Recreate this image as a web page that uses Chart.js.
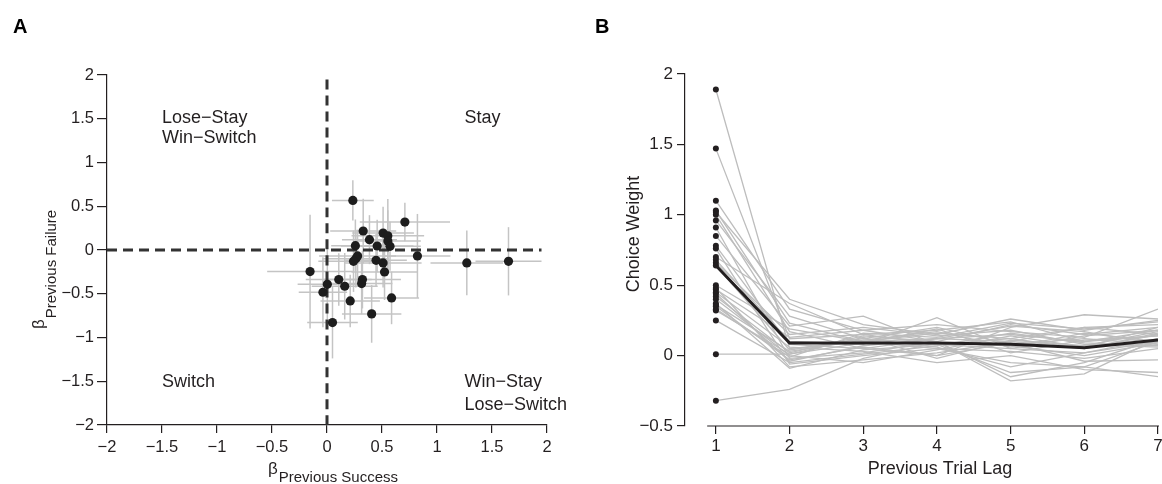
<!DOCTYPE html>
<html>
<head>
<meta charset="utf-8">
<script src="https://cdn.jsdelivr.net/npm/chart.js@4.4.1/dist/chart.umd.min.js"></script>
<style>
  html, body { margin: 0; padding: 0; background: #fff; }
  #wrap { position: relative; width: 1162px; height: 484px; overflow: hidden; }
  canvas { position: absolute; top: 0; }
  #chartA { left: 0; }
  #chartB { left: 580px; }
</style>
</head>
<body>
<div id="wrap">
  <canvas id="chartA" width="580" height="484"></canvas>
  <canvas id="chartB" width="582" height="484"></canvas>
</div>
<script>
// ---- panel A: regression weights per subject ----
var successBeta = [0.235, 0.708, 0.329, 0.510, 0.553, 0.386, 0.553, 0.258, 0.456, 0.573,
                   0.822, 0.278, 0.262, 0.446, 0.241, 0.510, 1.271, 1.650, -0.154, 0.523,
                   0.107, 0.322, 0.315, 0.003, 0.161, -0.037, 0.587, 0.211, 0.406, 0.050];
var failureBeta = [0.567, 0.319, 0.217, 0.194, 0.163, 0.118, 0.103, 0.049, 0.046, 0.042,
                   -0.068, -0.068, -0.099, -0.118, -0.129, -0.148, -0.148, -0.129, -0.247, -0.251,
                   -0.338, -0.338, -0.384, -0.392, -0.414, -0.483, -0.548, -0.582, -0.730, -0.829];
var successErr  = [0.19, 0.41, 0.30, 0.28, 0.33, 0.25, 0.30, 0.22, 0.33, 0.28,
                   0.30, 0.35, 0.30, 0.28, 0.32, 0.35, 0.33, 0.30, 0.39, 0.30,
                   0.30, 0.35, 0.28, 0.27, 0.30, 0.22, 0.25, 0.27, 0.27, 0.23];
var failureErr  = [0.23, 0.22, 0.37, 0.30, 0.42, 0.28, 0.35, 0.30, 0.30, 0.28,
                   0.48, 0.30, 0.33, 0.30, 0.35, 0.28, 0.37, 0.39, 0.65, 0.32,
                   0.30, 0.33, 0.35, 0.40, 0.38, 0.40, 0.30, 0.30, 0.33, 0.41];
var quadrantLabels = [
  { text: 'Lose\u2212Stay',   x: -1.5, y: 1.446 },
  { text: 'Win\u2212Switch',  x: -1.5, y: 1.226 },
  { text: 'Stay',             x: 1.25, y: 1.446 },
  { text: 'Switch',           x: -1.5, y: -1.562 },
  { text: 'Win\u2212Stay',    x: 1.25, y: -1.562 },
  { text: 'Lose\u2212Switch', x: 1.25, y: -1.823 }
];

// ---- panel B: choice weight by trial lag ----
var lags = [1, 2, 3, 4, 5, 6, 7];
var lagTicks = [1, 2, 3, 4, 5, 6, 7];
var weightTicks = [-0.5, 0, 0.5, 1, 1.5, 2];
var subjectWeights = [
  [1.89, 0.05, 0.10, 0.12, 0.15, 0.10, 0.18],
  [1.47, 0.12, 0.15, 0.08, 0.05, 0.02, 0.12],
  [1.10, 0.33, 0.18, 0.10, 0.22, 0.15, 0.20],
  [1.03, 0.23, 0.10, 0.05, -0.05, -0.08, 0.10],
  [1.02, 0.40, 0.22, 0.15, 0.26, 0.18, 0.25],
  [1.00, 0.17, 0.05, 0.12, 0.10, 0.20, 0.15],
  [0.96, 0.28, 0.12, 0.20, 0.08, 0.12, 0.08],
  [0.91, -0.02, 0.02, 0.10, -0.15, -0.05, 0.12],
  [0.85, 0.21, 0.28, 0.08, 0.12, 0.05, 0.15],
  [0.78, 0.08, 0.05, 0.00, 0.20, 0.29, 0.26],
  [0.76, -0.06, 0.00, 0.05, 0.03, -0.02, 0.05],
  [0.70, 0.37, 0.15, 0.18, 0.24, 0.10, 0.14],
  [0.68, 0.10, 0.08, 0.27, 0.05, 0.14, 0.18],
  [0.66, 0.15, 0.20, 0.14, 0.18, 0.08, 0.06],
  [0.64, 0.04, 0.12, 0.06, -0.08, 0.02, 0.10],
  [0.50, 0.19, 0.10, 0.16, 0.12, 0.20, 0.22],
  [0.48, -0.08, -0.03, 0.02, 0.10, 0.05, 0.16],
  [0.47, 0.13, 0.18, 0.22, 0.17, 0.13, 0.33],
  [0.45, 0.06, 0.03, -0.05, 0.00, -0.10, -0.12],
  [0.44, -0.04, 0.07, 0.12, 0.21, 0.17, 0.08],
  [0.42, 0.02, 0.14, 0.10, -0.18, -0.13, 0.12],
  [0.40, 0.00, -0.05, 0.04, 0.14, 0.06, 0.20],
  [0.37, -0.09, 0.04, 0.08, -0.12, -0.08, -0.15],
  [0.36, 0.03, 0.11, 0.17, 0.06, 0.16, 0.10],
  [0.35, -0.03, 0.06, 0.00, 0.09, -0.04, -0.03],
  [0.33, -0.01, 0.16, 0.13, 0.23, 0.19, 0.24],
  [0.32, 0.01, 0.09, 0.19, 0.02, 0.11, 0.14],
  [0.25, -0.05, 0.01, 0.07, 0.16, 0.09, 0.07],
  [0.01, 0.01, 0.13, -0.02, 0.11, 0.07, 0.17],
  [-0.32, -0.24, -0.02, 0.09, 0.07, 0.00, 0.09]
];
var meanWeight = [0.64, 0.09, 0.09, 0.09, 0.08, 0.055, 0.11];

var INK = '#231f20';
var GREY = '#bdbdbd';
var FONT = "'Liberation Sans', Arial, sans-serif";
Chart.defaults.font.family = FONT;
Chart.defaults.color = INK;

function fmt(v) {
  return String(Math.round(v * 10) / 10).replace('-', '\u2212');
}

function axis(opts) {
  return Object.assign({
    type: 'linear',
    grid: { drawOnChartArea: false, drawTicks: true, tickLength: 8, color: INK, lineWidth: 1.2 },
    border: { display: true, color: INK, width: 1.2 }
  }, opts);
}

/* ---------- panel A ---------- */
var dsA = [];
// grey error bars first (drawn underneath)
for (var i = 0; i < successBeta.length; i++) {
  dsA.push({
    type: 'line', order: 3, showLine: true, pointRadius: 0,
    borderColor: '#c4c4c4', borderWidth: 1.5,
    data: [{ x: successBeta[i] - successErr[i], y: failureBeta[i] },
           { x: successBeta[i] + successErr[i], y: failureBeta[i] }]
  });
  dsA.push({
    type: 'line', order: 3, showLine: true, pointRadius: 0,
    borderColor: '#c4c4c4', borderWidth: 1.5,
    data: [{ x: successBeta[i], y: failureBeta[i] - failureErr[i] },
           { x: successBeta[i], y: failureBeta[i] + failureErr[i] }]
  });
}
// dashed reference lines at zero
dsA.push({ type: 'line', order: 2, showLine: true, pointRadius: 0, borderColor: '#333',
  borderWidth: 3, borderDash: [10, 6], data: [{ x: -2, y: 0 }, { x: 1.95, y: 0 }] });
dsA.push({ type: 'line', order: 2, showLine: true, pointRadius: 0, borderColor: '#333',
  borderWidth: 3, borderDash: [10, 6], data: [{ x: 0, y: 1.95 }, { x: 0, y: -2 }] });
// subject points
dsA.push({
  type: 'scatter', order: 1, pointRadius: 4.6, pointBackgroundColor: '#1d1d1d', pointBorderWidth: 0,
  data: successBeta.map(function (x, k) { return { x: x, y: failureBeta[k] }; })
});

var annotA = {
  id: 'annotA',
  afterDraw: function (chart) {
    var ctx = chart.ctx, sx = chart.scales.x, sy = chart.scales.y;
    ctx.save();
    ctx.fillStyle = INK;
    ctx.textBaseline = 'alphabetic';
    ctx.font = '18px ' + FONT;
    quadrantLabels.forEach(function (q) {
      ctx.fillText(q.text, sx.getPixelForValue(q.x), sy.getPixelForValue(q.y));
    });
    // x title: beta with subscript
    ctx.font = '17px ' + FONT;
    var wb = ctx.measureText('\u03b2').width;
    ctx.fillText('\u03b2', 268, 474);
    ctx.font = '15px ' + FONT;
    ctx.fillText('Previous Success', 268 + wb + 1, 482);
    // y title, rotated
    ctx.translate(44, 329);
    ctx.rotate(-Math.PI / 2);
    ctx.font = '17px ' + FONT;
    ctx.fillText('\u03b2', 0, 0);
    ctx.font = '15px ' + FONT;
    ctx.fillText('Previous Failure', wb + 1, 12);
    ctx.restore();
    // panel letter
    ctx.save();
    ctx.fillStyle = '#000';
    ctx.font = 'bold 20px ' + FONT;
    ctx.fillText('A', 13, 33);
    ctx.restore();
  }
};

new Chart(document.getElementById('chartA'), {
  type: 'scatter',
  data: { datasets: dsA },
  options: {
    responsive: false,
    animation: false,
    layout: { padding: { left: 57, right: 33, top: 75, bottom: 24 } },
    plugins: { legend: { display: false }, tooltip: { enabled: false } },
    scales: {
      x: axis({
        min: -2, max: 2,
        ticks: { stepSize: 0.5, callback: fmt, font: { size: 16.5 }, padding: 5, maxRotation: 0, autoSkip: false },
        afterFit: function (s) { s.height = 35; s.paddingLeft = 0; s.paddingRight = 0; }
      }),
      y: axis({
        min: -2, max: 2,
        grid: { drawOnChartArea: false, tickLength: 10, color: INK, lineWidth: 1.2 },
        ticks: { stepSize: 0.5, callback: fmt, font: { size: 16.5 }, padding: 3, autoSkip: false },
        afterFit: function (s) { s.width = 50; }
      })
    }
  },
  plugins: [annotA]
});

/* ---------- panel B ---------- */
var dsB = subjectWeights.map(function (row) {
  return {
    type: 'line', order: 3, pointRadius: 0, borderColor: GREY, borderWidth: 1.3,
    data: lags.map(function (l, k) { return { x: l, y: row[k] }; })
  };
});
dsB.push({
  type: 'line', order: 2, pointRadius: 0, borderColor: INK, borderWidth: 3,
  data: lags.map(function (l, k) { return { x: l, y: meanWeight[k] }; })
});
dsB.push({
  type: 'scatter', order: 1, pointRadius: 3, pointBackgroundColor: INK, pointBorderWidth: 0,
  data: subjectWeights.map(function (row) { return { x: lags[0], y: row[0] }; })
});

var annotB = {
  id: 'annotB',
  afterDraw: function (chart) {
    var ctx = chart.ctx, sx = chart.scales.x, area = chart.chartArea;
    ctx.save();
    // detached x axis line
    ctx.strokeStyle = INK;
    ctx.lineWidth = 1.2;
    ctx.beginPath();
    ctx.moveTo(sx.getPixelForValue(0.882), area.bottom);
    ctx.lineTo(sx.getPixelForValue(7) + 1, area.bottom);
    ctx.stroke();
    ctx.fillStyle = INK;
    ctx.font = '18px ' + FONT;
    ctx.textAlign = 'center';
    ctx.textBaseline = 'alphabetic';
    ctx.fillText('Previous Trial Lag', 360, 474);
    ctx.translate(59, 234);
    ctx.rotate(-Math.PI / 2);
    ctx.fillText('Choice Weight', 0, 0);
    ctx.restore();
    ctx.save();
    ctx.fillStyle = '#000';
    ctx.font = 'bold 20px ' + FONT;
    ctx.fillText('B', 15, 33);
    ctx.restore();
  }
};

new Chart(document.getElementById('chartB'), {
  type: 'line',
  data: { datasets: dsB },
  options: {
    responsive: false,
    animation: false,
    layout: { padding: { left: 55, right: 2, top: 74, bottom: 23 } },
    plugins: { legend: { display: false }, tooltip: { enabled: false } },
    scales: {
      x: axis({
        min: 0.581, max: 7,
        border: { display: false },
        ticks: { callback: fmt, font: { size: 17 }, padding: 2, maxRotation: 0, autoSkip: false },
        afterBuildTicks: function (s) { s.ticks = lagTicks.map(function (v) { return { value: v }; }); },
        afterFit: function (s) { s.height = 35; s.paddingLeft = 0; s.paddingRight = 0; }
      }),
      y: axis({
        min: -0.5, max: 2,
        ticks: { callback: fmt, font: { size: 17 }, padding: 4, autoSkip: false },
        afterBuildTicks: function (s) { s.ticks = weightTicks.map(function (v) { return { value: v }; }); },
        afterFit: function (s) { s.width = 50; }
      })
    }
  },
  plugins: [annotB]
});
</script>
</body>
</html>
